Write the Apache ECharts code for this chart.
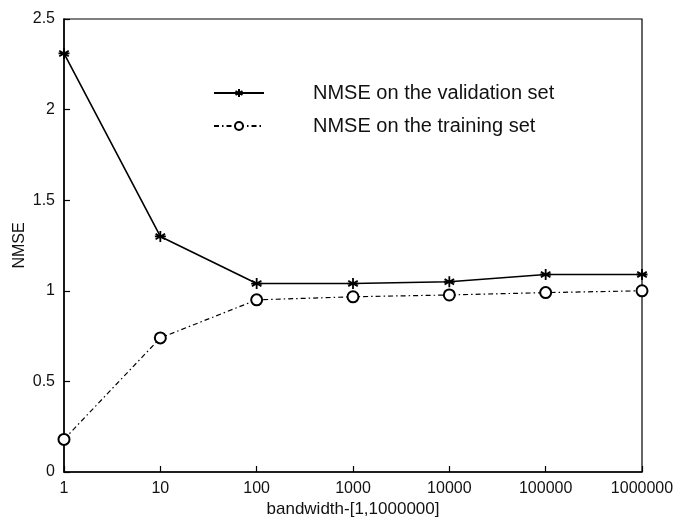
<!DOCTYPE html>
<html>
    <head>
        <meta charset="UTF-8">
        <script src="https://cdn.jsdelivr.net/npm/echarts@6/dist/echarts.min.js"></script>
        <style>
            body { margin: 0; background: #fff; }
        </style>
    </head>
    <body>
        <div id="chart" style="width: 678px;height:519px;"></div>
        <script type="text/javascript">
            // bandwidth categories
            var bandwidth = ['1', '10', '100', '1000', '10000', '100000', '1000000'];
            var validationNmse = [2.31, 1.30, 1.04, 1.04, 1.05, 1.09, 1.09];
            var trainingNmse = [0.18, 0.74, 0.95, 0.967, 0.977, 0.99, 1.0];
            var yTicks = [0, 0.5, 1, 1.5, 2, 2.5];

            var font = 'Liberation Sans, Arial, sans-serif';
            var star = 'path://M0,-5L0,5M-4.33,-2.5L4.33,2.5M-4.33,2.5L4.33,-2.5M-5,0L5,0';

            var chart = echarts.init(document.getElementById('chart'));
            var option = {
                animation: false,
                grid: {
                    left: 64,
                    right: 36,
                    top: 19,
                    bottom: 47,
                    outerBoundsMode: 'none',
                    show: true,
                    borderColor: '#000',
                    borderWidth: 1.2
                },
                legend: {
                    orient: 'vertical',
                    left: 208,
                    top: 78,
                    itemWidth: 50,
                    itemHeight: 10,
                    itemGap: 13,
                    textStyle: {
                        fontFamily: font,
                        fontSize: 20,
                        color: '#111',
                        padding: [0, 0, 0, 44]
                    },
                    data: ['NMSE on the validation set', 'NMSE on the training set']
                },
                xAxis: {
                    type: 'category',
                    boundaryGap: false,
                    data: bandwidth,
                    name: 'bandwidth-[1,1000000]',
                    nameLocation: 'middle',
                    nameGap: 29,
                    nameMoveOverlap: false,
                    nameTextStyle: { fontFamily: font, fontSize: 17, color: '#111' },
                    axisLine: { lineStyle: { color: '#000', width: 1.5 } },
                    axisTick: { inside: true, length: 6, lineStyle: { color: '#000', width: 1.2 } },
                    axisLabel: { fontFamily: font, fontSize: 16, color: '#111', margin: 9 },
                    splitLine: { show: false }
                },
                yAxis: {
                    type: 'value',
                    min: yTicks[0],
                    max: yTicks[yTicks.length - 1],
                    interval: 0.5,
                    name: 'NMSE',
                    nameLocation: 'middle',
                    nameGap: 36,
                    nameMoveOverlap: false,
                    nameTextStyle: { fontFamily: font, fontSize: 16, color: '#111' },
                    axisLine: { show: true, lineStyle: { color: '#000', width: 1.5 } },
                    axisTick: { show: true, inside: true, length: 6, lineStyle: { color: '#000', width: 1.2 } },
                    axisLabel: { fontFamily: font, fontSize: 16, color: '#111', margin: 9 },
                    splitLine: { show: false }
                },
                series: [
                    {
                        name: 'NMSE on the validation set',
                        type: 'line',
                        data: validationNmse,
                        symbol: star,
                        symbolSize: 11,
                        itemStyle: { color: '#000', borderColor: '#000', borderWidth: 1.8 },
                        lineStyle: { color: '#000', width: 1.6 }
                    },
                    {
                        name: 'NMSE on the training set',
                        type: 'line',
                        data: trainingNmse,
                        symbol: 'emptyCircle',
                        symbolSize: 11,
                        itemStyle: { color: '#000', borderColor: '#000', borderWidth: 1.5 },
                        lineStyle: { color: '#000', width: 1.2, type: [5, 3, 1.5, 3] }
                    }
                ]
            };
            chart.setOption(option);
        </script>
    </body>
</html>
